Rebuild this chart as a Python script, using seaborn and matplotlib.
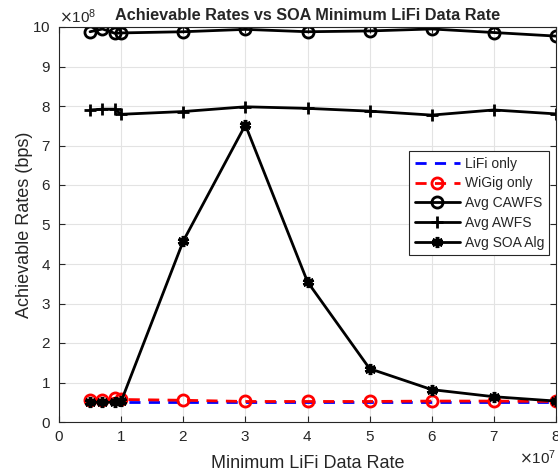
import matplotlib
matplotlib.use("Agg")
import matplotlib.pyplot as plt
import seaborn as sns
import pandas as pd
from matplotlib.ticker import ScalarFormatter

min_lifi_rate = [0.5e7, 0.7e7, 0.9e7, 1.0e7, 2e7, 3e7, 4e7, 5e7, 6e7, 7e7, 8e7]
lifi_only = [0.50e8, 0.50e8, 0.50e8, 0.50e8, 0.50e8, 0.50e8, 0.50e8, 0.50e8, 0.50e8, 0.50e8, 0.50e8]
wigig_only = [0.55e8, 0.55e8, 0.60e8, 0.57e8, 0.55e8, 0.52e8, 0.52e8, 0.52e8, 0.53e8, 0.53e8, 0.52e8]
avg_cawfs = [9.88e8, 9.95e8, 9.84e8, 9.85e8, 9.88e8, 9.94e8, 9.88e8, 9.90e8, 9.95e8, 9.86e8, 9.77e8]
avg_awfs = [7.90e8, 7.92e8, 7.92e8, 7.79e8, 7.86e8, 7.98e8, 7.94e8, 7.87e8, 7.77e8, 7.90e8, 7.80e8]
avg_soa = [0.50e8, 0.50e8, 0.50e8, 0.52e8, 4.58e8, 7.52e8, 3.55e8, 1.35e8, 0.82e8, 0.64e8, 0.53e8]

series_names = ["LiFi only", "WiGig only", "Avg CAWFS", "Avg AWFS", "Avg SOA Alg"]
series_vals = [lifi_only, wigig_only, avg_cawfs, avg_awfs, avg_soa]

frames = []
for n, v in zip(series_names, series_vals):
    frames.append(pd.DataFrame({"x": min_lifi_rate, "y": v, "series": n}))
df = pd.concat(frames, ignore_index=True)

sns.set_theme(style="whitegrid")
plt.rcParams['font.family'] = ['Liberation Sans', 'DejaVu Sans']

fig = plt.figure(figsize=(5.58, 4.72), dpi=100)
ax = fig.add_axes([59/558, 1-422/472, 497/558, (422-27)/472])

styles = {
    "LiFi only": dict(color="#0000ff", linestyle=(0, (4, 3)), marker=None),
    "WiGig only": dict(color="#ff0000", linestyle=(0, (4, 3)), marker="o", markerfacecolor="none",
                        markeredgecolor="#ff0000", markersize=8, markeredgewidth=2),
    "Avg CAWFS": dict(color="black", linestyle="-", marker="o", markerfacecolor="none",
                       markeredgecolor="black", markersize=8, markeredgewidth=2),
    "Avg AWFS": dict(color="black", linestyle="-", marker="+", markersize=9, markeredgewidth=2,
                      markeredgecolor="black"),
    "Avg SOA Alg": dict(color="black", linestyle="-", marker=(6, 2, 0), markersize=8, markeredgewidth=2.5,
                         markeredgecolor="black"),
}

for n in series_names:
    sub = df[df["series"] == n]
    st = dict(styles[n])
    ls = st.pop("linestyle")
    sns.lineplot(data=sub, x="x", y="y", ax=ax, label=n, linewidth=2, **st)
    ax.lines[-1].set_linestyle(ls)

ax.set_xlim(0, 8e7)
ax.set_ylim(0, 10e8)
ax.set_xticks([i * 1e7 for i in range(9)])
ax.set_yticks([i * 1e8 for i in range(11)])
fx = ScalarFormatter(useMathText=True)
fx.set_powerlimits((7, 7))
ax.xaxis.set_major_formatter(fx)
fy = ScalarFormatter(useMathText=True)
fy.set_powerlimits((8, 8))
ax.yaxis.set_major_formatter(fy)
for ot in (ax.xaxis.get_offset_text(), ax.yaxis.get_offset_text()):
    ot.set_fontsize(11)
    ot.set_color("#262626")

ax.set_facecolor("white")
ax.grid(True, color="#e3e3e3", linewidth=0.8)
for s in ax.spines.values():
    s.set_color("#262626")
    s.set_linewidth(0.8)
    s.set_visible(True)
ax.tick_params(axis="both", which="both", direction="in", length=4, width=0.8, colors="#262626",
               labelsize=11, top=True, right=True, bottom=True, left=True, pad=6)

ax.set_title("Achievable Rates vs SOA Minimum LiFi Data Rate", fontsize=11.7, fontweight="bold", pad=5)
ax.set_xlabel("Minimum LiFi Data Rate", fontsize=13, color="#262626", labelpad=8)
ax.set_ylabel("Achievable Rates (bps)", fontsize=13, color="#262626")
ax.yaxis.set_label_coords(-0.052, 0.5)

leg = ax.legend(loc="upper left", bbox_to_anchor=(350/497, 1 - (151-27)/395), frameon=True, fancybox=False,
                fontsize=10, handlelength=3.3, borderpad=0.4, labelspacing=0.42, handletextpad=0.3,
                borderaxespad=0)
leg.get_frame().set_edgecolor("#262626")
leg.get_frame().set_linewidth(0.8)
leg.get_frame().set_alpha(1)

fig.savefig("out.png", dpi=100)
